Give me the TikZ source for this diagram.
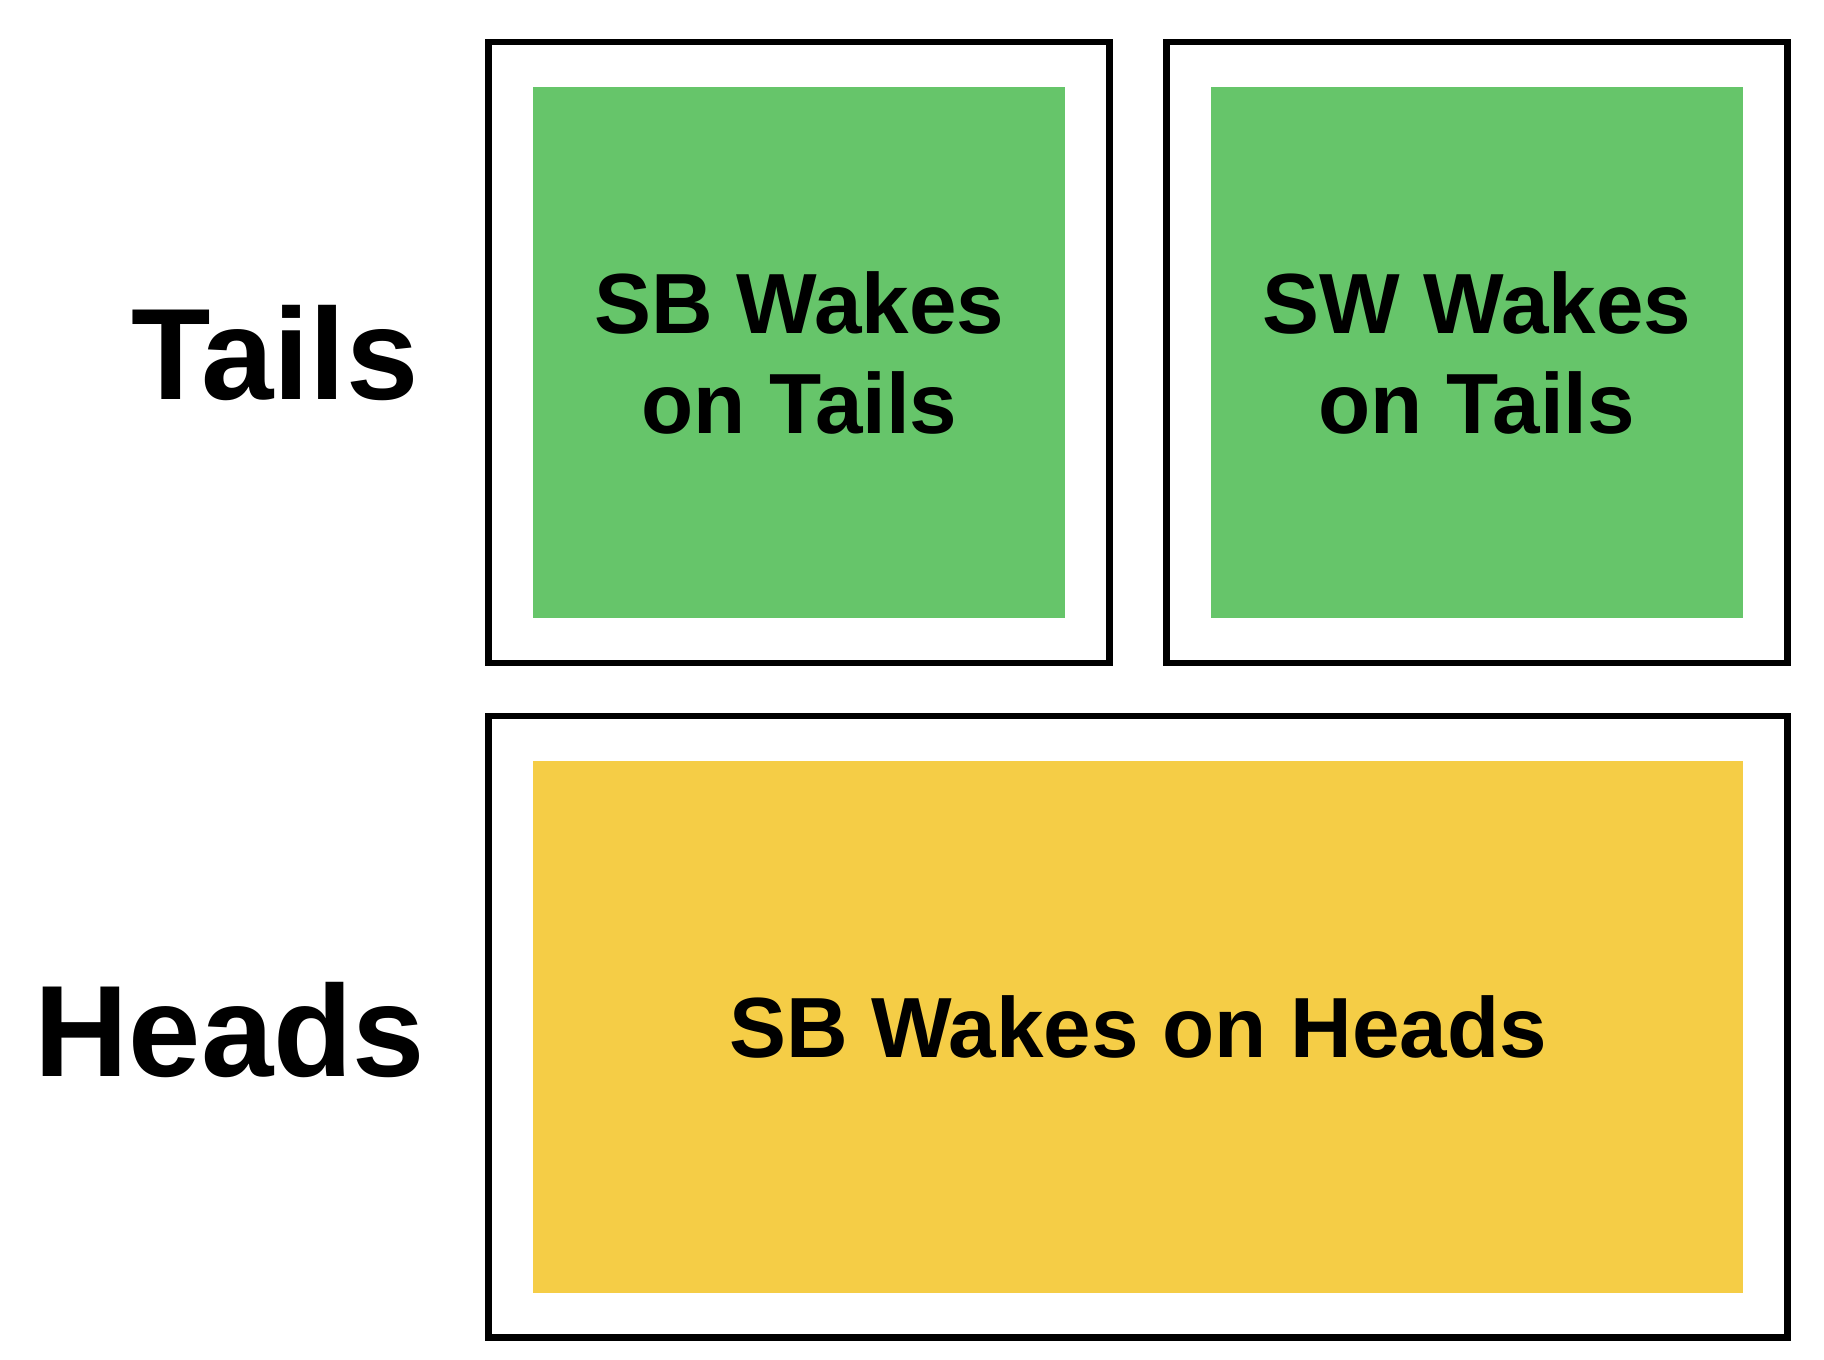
\documentclass[tikz,border=0pt]{standalone}
\usepackage{fontspec}
\setmainfont{Liberation Sans}
\definecolor{grass}{HTML}{66C56A}
\definecolor{mustard}{HTML}{F5CD46}
\usepackage{tikz}
\usetikzlibrary{positioning,fit}
\tikzset{
  outcome/.style={inner sep=0pt,align=center,text=black,
                  font=\fontsize{24.3}{28.45}\selectfont\bfseries},
  frame/.style={draw=black,line width=1.9pt,inner sep=0.44cm},
  rowlabel/.style={anchor=base east,inner sep=0pt,
                   font=\fontsize{37}{40}\selectfont\bfseries}
}

\begin{document}
\begin{tikzpicture}
  \useasboundingbox (0,0) rectangle (18.24,-13.60);

  % coloured outcome panels
  \node[outcome,fill=grass,minimum width=5.317cm,minimum height=5.316cm]
    (sbTails) at (7.992,-3.525) {SB Wakes\\on Tails};
  \node[outcome,fill=grass,minimum width=5.32cm,minimum height=5.316cm,
        right=1.445cm of sbTails] (swTails) {SW Wakes\\on Tails};
  \node[outcome,fill=mustard,minimum width=12.094cm,minimum height=5.32cm]
    (sbHeads) at (11.38,-10.267) {SB Wakes on Heads};

  % black frames round them
  \node[frame,fit=(sbTails)] (sbTailsFrame) {};
  \node[frame,fit=(swTails)] (swTailsFrame) {};
  \node[frame,fit=(sbHeads)] (sbHeadsFrame) {};

  % row labels
  \node[rowlabel] (tailsLabel) at (4.19,-4.00) {Tails};
  \node[rowlabel] (headsLabel) at (4.26,-10.76) {Heads};
\end{tikzpicture}
\end{document}
